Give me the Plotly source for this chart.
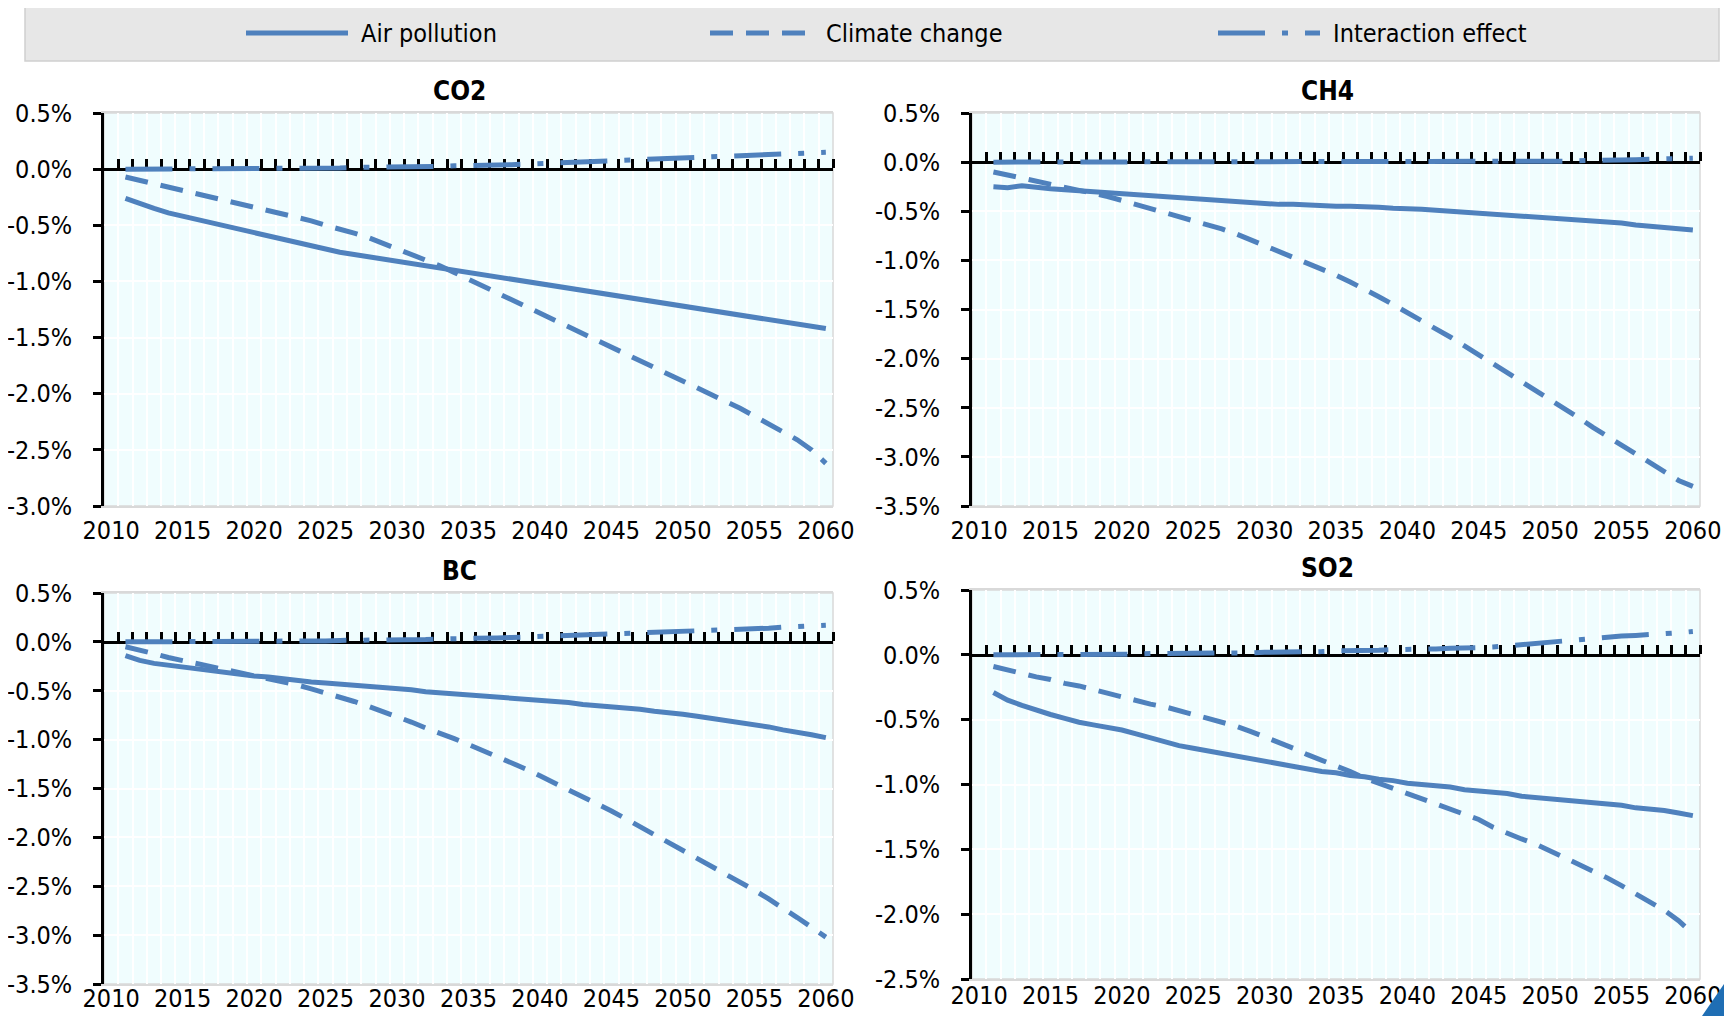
import plotly.graph_objects as go

years = list(range(2011, 2061))
tick_years = list(range(2010, 2061, 5))
series_names = ["Air pollution", "Climate change", "Interaction effect"]
panel_titles = ["CO2", "CH4", "BC", "SO2"]

co2_air = [-0.26, -0.31, -0.35, -0.39, -0.42, -0.45, -0.48, -0.51, -0.54, -0.57,
           -0.60, -0.63, -0.66, -0.69, -0.71, -0.74, -0.76, -0.78, -0.80, -0.82,
           -0.84, -0.86, -0.89, -0.91, -0.93, -0.95, -0.97, -0.99, -1.01, -1.03,
           -1.05, -1.07, -1.09, -1.11, -1.13, -1.15, -1.17, -1.19, -1.21, -1.23,
           -1.25, -1.27, -1.29, -1.31, -1.33, -1.35, -1.37, -1.39, -1.40, -1.42]
co2_climate = [-0.07, -0.10, -0.13, -0.16, -0.19, -0.22, -0.24, -0.27, -0.30, -0.33,
               -0.36, -0.39, -0.42, -0.46, -0.50, -0.53, -0.57, -0.61, -0.66, -0.70,
               -0.75, -0.80, -0.86, -0.92, -0.98, -1.04, -1.10, -1.16, -1.22, -1.28,
               -1.34, -1.40, -1.46, -1.52, -1.58, -1.64, -1.70, -1.76, -1.82, -1.88,
               -1.94, -2.00, -2.07, -2.13, -2.20, -2.27, -2.34, -2.41, -2.50, -2.62]
co2_inter = [0.0, 0.0, 0.0, 0.0, 0.0, 0.0, 0.0, 0.0, 0.0, 0.005,
             0.005, 0.005, 0.01, 0.01, 0.01, 0.01, 0.015, 0.015, 0.02, 0.02,
             0.02, 0.025, 0.025, 0.03, 0.03, 0.035, 0.04, 0.04, 0.045, 0.05,
             0.05, 0.055, 0.06, 0.065, 0.07, 0.075, 0.08, 0.085, 0.09, 0.095,
             0.10, 0.105, 0.11, 0.115, 0.12, 0.125, 0.13, 0.14, 0.145, 0.15]

ch4_air = [-0.25, -0.26, -0.24, -0.26, -0.27, -0.28, -0.29, -0.30, -0.31, -0.32,
           -0.34, -0.35, -0.36, -0.37, -0.38, -0.39, -0.40, -0.41, -0.42, -0.42,
           -0.43, -0.43, -0.44, -0.44, -0.45, -0.45, -0.45, -0.46, -0.47, -0.47,
           -0.48, -0.49, -0.50, -0.51, -0.52, -0.52, -0.53, -0.54, -0.55, -0.56,
           -0.57, -0.59, -0.60, -0.61, -0.62, -0.64, -0.65, -0.66, -0.68, -0.69]
ch4_climate = [-0.10, -0.13, -0.16, -0.19, -0.22, -0.25, -0.28, -0.31, -0.35, -0.39,
               -0.43, -0.47, -0.51, -0.55, -0.59, -0.63, -0.68, -0.73, -0.79, -0.84,
               -0.90, -0.96, -1.02, -1.08, -1.15, -1.22, -1.29, -1.37, -1.45, -1.53,
               -1.61, -1.70, -1.78, -1.87, -1.96, -2.05, -2.14, -2.23, -2.32, -2.42,
               -2.51, -2.60, -2.70, -2.79, -2.88, -2.98, -3.07, -3.16, -3.24, -3.30]
ch4_inter = [0.0, 0.0, 0.0, 0.0, 0.0, 0.0, 0.0, 0.0, 0.0, 0.0,
             0.0, 0.0, 0.0, 0.0, 0.0, 0.0, 0.0, 0.0, 0.0, 0.0,
             0.0, 0.0, 0.0, 0.0, 0.0, 0.0, 0.0, 0.0, 0.0, 0.0,
             0.0, 0.0, 0.0, 0.005, 0.005, 0.005, 0.005, 0.01, 0.01, 0.01,
             0.01, 0.015, 0.015, 0.02, 0.02, 0.025, 0.03, 0.03, 0.035, 0.04]

bc_air = [-0.14, -0.19, -0.22, -0.24, -0.26, -0.28, -0.30, -0.32, -0.33, -0.35,
          -0.36, -0.38, -0.39, -0.41, -0.42, -0.43, -0.44, -0.45, -0.46, -0.48,
          -0.49, -0.51, -0.52, -0.53, -0.54, -0.55, -0.56, -0.57, -0.58, -0.59,
          -0.61, -0.62, -0.64, -0.65, -0.66, -0.68, -0.69, -0.71, -0.72, -0.74,
          -0.76, -0.78, -0.80, -0.82, -0.85, -0.87, -0.90, -0.92, -0.95, -0.98]
bc_climate = [-0.05, -0.08, -0.12, -0.16, -0.19, -0.22, -0.25, -0.28, -0.31, -0.34,
              -0.37, -0.40, -0.44, -0.48, -0.52, -0.57, -0.61, -0.66, -0.71, -0.77,
              -0.82, -0.88, -0.93, -0.99, -1.05, -1.11, -1.17, -1.23, -1.30, -1.37,
              -1.44, -1.51, -1.58, -1.65, -1.73, -1.81, -1.89, -1.97, -2.05, -2.13,
              -2.21, -2.29, -2.37, -2.45, -2.54, -2.63, -2.72, -2.82, -2.92, -3.02]
bc_inter = [0.0, 0.0, 0.0, 0.0, 0.0, 0.0, 0.0, 0.005, 0.005, 0.005,
            0.005, 0.01, 0.01, 0.01, 0.01, 0.015, 0.015, 0.015, 0.02, 0.02,
            0.025, 0.025, 0.03, 0.03, 0.035, 0.04, 0.04, 0.045, 0.05, 0.05,
            0.055, 0.06, 0.065, 0.07, 0.075, 0.08, 0.085, 0.09, 0.10, 0.105,
            0.11, 0.115, 0.12, 0.13, 0.135, 0.14, 0.15, 0.155, 0.16, 0.17]

so2_air = [-0.29, -0.35, -0.39, -0.43, -0.46, -0.49, -0.52, -0.54, -0.56, -0.58,
           -0.61, -0.64, -0.67, -0.70, -0.72, -0.74, -0.76, -0.78, -0.80, -0.82,
           -0.84, -0.86, -0.88, -0.90, -0.91, -0.93, -0.94, -0.96, -0.97, -0.99,
           -1.00, -1.01, -1.02, -1.04, -1.05, -1.06, -1.07, -1.09, -1.10, -1.11,
           -1.12, -1.13, -1.14, -1.15, -1.16, -1.18, -1.19, -1.20, -1.22, -1.24]
so2_climate = [-0.09, -0.12, -0.15, -0.17, -0.19, -0.22, -0.24, -0.27, -0.30, -0.32,
               -0.35, -0.38, -0.40, -0.43, -0.46, -0.49, -0.52, -0.55, -0.59, -0.63,
               -0.67, -0.72, -0.77, -0.81, -0.86, -0.90, -0.95, -0.99, -1.04, -1.08,
               -1.12, -1.16, -1.20, -1.24, -1.27, -1.33, -1.38, -1.42, -1.46, -1.51,
               -1.56, -1.61, -1.66, -1.72, -1.78, -1.84, -1.90, -1.97, -2.05, -2.15]
so2_inter = [0.0, 0.0, 0.0, 0.0, 0.0, 0.0, 0.0, 0.005, 0.005, 0.005,
             0.005, 0.01, 0.01, 0.01, 0.01, 0.01, 0.015, 0.015, 0.015, 0.02,
             0.02, 0.02, 0.025, 0.025, 0.03, 0.03, 0.035, 0.035, 0.04, 0.04,
             0.045, 0.045, 0.05, 0.05, 0.055, 0.06, 0.07, 0.08, 0.09, 0.10,
             0.11, 0.12, 0.13, 0.14, 0.145, 0.15, 0.155, 0.16, 0.17, 0.18]

panel_data = [
    (co2_air, co2_climate, co2_inter),
    (ch4_air, ch4_climate, ch4_inter),
    (bc_air, bc_climate, bc_inter),
    (so2_air, so2_climate, so2_inter),
]
y_ranges = [(-3.0, 0.5), (-3.5, 0.5), (-3.5, 0.5), (-2.5, 0.5)]

# ---- styling / layout ----
PAGE_OFF = 8                       # default body margin of the html page
W, H = 1732 - 2 * PAGE_OFF, 1024 - 2 * PAGE_OFF
FONT = "DejaVu Sans Condensed, Liberation Sans, sans-serif"
FS = 25
BLUE = "#4F81BD"
DASHES = ["solid", "23px,13px", "47px,17px,6px,17px"]
LW = 5

# pixel boxes (page coordinates) of the plot areas: (x0, x1), (ytop, ybottom)
boxes = [((104, 833), (113, 506)),
         ((972, 1700), (113, 506)),
         ((104, 833), (593, 984)),
         ((972, 1700), (590, 979))]
# standoff of the year labels (bottom row pulled up a little to stay on the page)
x_standoff = [1, 1, -9, -7]


def px(x):
    return (x - PAGE_OFF) / W


def py(y):
    return 1 - (y - PAGE_OFF) / H


fig = go.Figure()
layout = dict(
    width=W, height=H, margin=dict(l=0, r=0, t=0, b=0, autoexpand=False),
    paper_bgcolor="white", showlegend=False,
    font=dict(family=FONT, size=FS, color="black"),
    shapes=[], annotations=[],
)

x_lo, x_hi = 2009.5, 2060.5
boundary_ticks = [2009.5 + i for i in range(1, 52)]

for i, (data, (yr0, yr1), ((bx0, bx1), (by0, by1))) in enumerate(zip(panel_data, y_ranges, boxes)):
    n = i + 1
    sfx = "" if n == 1 else str(n)
    ov = str(n + 4)
    xd = [px(bx0), px(bx1)]
    yd = [py(by1), py(by0)]
    for vals, name, dash in zip(data, series_names, DASHES):
        fig.add_trace(go.Scatter(
            x=years, y=vals, mode="lines", name=name,
            line=dict(color=BLUE, width=LW, dash=dash),
            xaxis="x" + sfx, yaxis="y" + sfx, showlegend=False,
        ))
    # dummy trace for the zero-line axis
    fig.add_trace(go.Scatter(x=[], y=[], xaxis="x" + ov, yaxis="y" + sfx,
                             showlegend=False, hoverinfo="skip"))

    n_ticks = int(round((yr1 - yr0) / 0.5)) + 1
    yvals = [round(yr0 + 0.5 * k, 2) for k in range(n_ticks)]
    ytext = ["%.1f%%" % v if abs(v) > 1e-9 else "0.0%" for v in yvals]

    layout["xaxis" + sfx] = dict(
        domain=xd, anchor="y" + sfx, range=[x_lo, x_hi], automargin=False,
        tickmode="array", tickvals=tick_years, ticktext=[str(t) for t in tick_years],
        ticks="", showgrid=False, zeroline=False,
        showline=True, linecolor="#D9D9D9", linewidth=1.5, mirror=True,
        tickfont=dict(size=FS), ticklabelstandoff=x_standoff[i],
        minor=dict(tick0=2009.5, dtick=1, showgrid=True, gridcolor="white", gridwidth=1.5, ticks=""),
    )
    layout["yaxis" + sfx] = dict(
        domain=yd, anchor="x" + sfx, range=[yr0, yr1], automargin=False,
        tickmode="array", tickvals=yvals, ticktext=ytext,
        ticks="outside", ticklen=8, tickwidth=2.5, tickcolor="black",
        showline=True, linecolor="black", linewidth=2.5,
        showgrid=True, gridcolor="white", gridwidth=1.5, zeroline=False,
        tickfont=dict(size=FS), ticklabelstandoff=16,
    )
    zero_pos = yd[0] + (0 - yr0) / (yr1 - yr0) * (yd[1] - yd[0])
    layout["xaxis" + ov] = dict(
        overlaying="x" + sfx, anchor="free", position=zero_pos, side="top",
        range=[x_lo, x_hi], tickmode="array", tickvals=boundary_ticks, automargin=False,
        ticks="outside", ticklen=9, tickwidth=2.5, tickcolor="black",
        showticklabels=False, showgrid=False, zeroline=False,
        showline=True, linecolor="black", linewidth=2.5, layer="below traces",
    )
    # plot background and grey border
    layout["shapes"].append(dict(
        type="rect", xref="x" + sfx + " domain", yref="y" + sfx + " domain",
        x0=0, x1=1, y0=0, y1=1, fillcolor="#F0FDFE",
        line=dict(color="#D9D9D9", width=1.5), layer="below",
    ))
    layout["annotations"].append(dict(
        text="<b>%s</b>" % panel_titles[i], xref="paper", yref="paper",
        x=px((bx0 + bx1) / 2 - 9), y=py(by0 - 22), xanchor="center", yanchor="middle",
        showarrow=False, font=dict(size=FS + 1, family=FONT),
    ))

# legend box
layout["shapes"].append(dict(
    type="rect", xref="paper", yref="paper",
    x0=px(25), x1=px(1719), y0=py(61), y1=py(5),
    fillcolor="#E7E7E7", line=dict(color="#D0D0D0", width=1.5), layer="below",
))
legend_pos = [(246, 348, 359), (710, 814, 824), (1218, 1320, 1331)]
for (l0, l1, tx), name, dash in zip(legend_pos, series_names, DASHES):
    layout["shapes"].append(dict(
        type="line", xref="paper", yref="paper",
        x0=px(l0), x1=px(l1), y0=py(33), y1=py(33),
        line=dict(color=BLUE, width=LW, dash=dash),
    ))
    layout["annotations"].append(dict(
        text=name, xref="paper", yref="paper", x=px(tx), y=py(33),
        xanchor="left", yanchor="middle", showarrow=False,
        font=dict(size=FS, family=FONT),
    ))

# corner logo triangle
layout["shapes"].append(dict(
    type="path", xref="paper", yref="paper",
    path="M %f,%f L %f,%f L %f,%f Z" % (px(1702), py(1016), px(1724), py(984), px(1724), py(1016)),
    fillcolor="#1F6EB4", line=dict(width=0),
))

fig.update_layout(**layout)
fig.write_html("out.html")
